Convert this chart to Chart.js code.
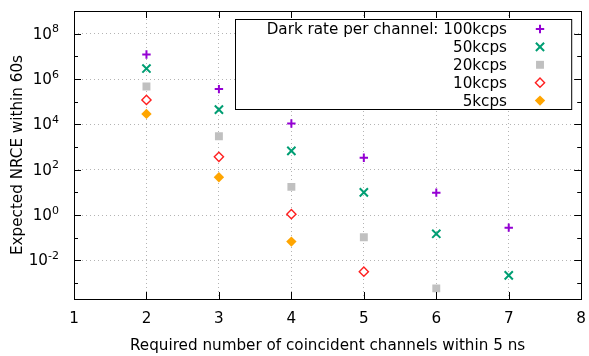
<!DOCTYPE html>
<html>
<head>
<meta charset="utf-8">
<script src="https://cdn.jsdelivr.net/npm/chart.js@4.4.1/dist/chart.umd.min.js"></script>
<style>
  html, body { margin: 0; padding: 0; background: #fff; }
  canvas { display: block; }
</style>
</head>
<body>
<canvas id="chart" width="589" height="356"></canvas>
<script>
// data (expected NRCE within 60s)
const channels = [2, 3, 4, 5, 6, 7];
const rate100k = [1.2e7, 3.6e5, 1.1e4, 340, 9.8, 0.28];
const rate50k = [2.9e6, 4.5e4, 680, 10, 0.15, 0.0022];
const rate20k = [4.7e5, 3.0e3, 17.6, 0.105, 5.9e-4];
const rate10k = [1.2e5, 370, 1.1, 0.0032];
const rate5k = [2.9e4, 47, 0.068];
const seriesLabels = ['Dark rate per channel: 100kcps', '50kcps', '20kcps', '10kcps', '5kcps'];
const xTicks = [1, 2, 3, 4, 5, 6, 7, 8];
const yDecades = [-3, -2, -1, 0, 1, 2, 3, 4, 5, 6, 7, 8];
const yLabelDecades = [-2, 0, 2, 4, 6, 8];

const FONT = '"DejaVu Sans", sans-serif';
const FS = 15.2;
const GRID = '#b4b4b4';

const toPoints = (vals) => vals.map((v, i) => ({ x: channels[i], y: v }));

const datasets = [
  { label: seriesLabels[0], data: toPoints(rate100k), pointStyle: 'cross', radius: 4.2,
    borderColor: '#9400d3', backgroundColor: '#9400d3', borderWidth: 2 },
  { label: seriesLabels[1], data: toPoints(rate50k), pointStyle: 'crossRot', radius: 5.8,
    borderColor: '#009e73', backgroundColor: '#009e73', borderWidth: 2 },
  { label: seriesLabels[2], data: toPoints(rate20k), pointStyle: 'rect', radius: 5.6,
    borderColor: '#c0c0c0', backgroundColor: '#c0c0c0', borderWidth: 0 },
  { label: seriesLabels[3], data: toPoints(rate10k), pointStyle: 'rectRot', radius: 4.6,
    borderColor: '#ff2020', backgroundColor: '#ffffff', borderWidth: 1.4 },
  { label: seriesLabels[4], data: toPoints(rate5k), pointStyle: 'rectRot', radius: 5.2,
    borderColor: '#ffa500', backgroundColor: '#ffa500', borderWidth: 0 },
].map(d => ({ ...d, showLine: false, pointRadius: d.radius, pointHoverRadius: d.radius }));

// gnuplot-like frame, inward ticks, labels and key box
const gnuFrame = {
  id: 'gnuFrame',
  afterDatasetsDraw(chart) {
    const { ctx, chartArea: a } = chart;
    // key box
    const bx = 235, by = 19, bw = a.right - 10 - bx, bh = 90;
    ctx.save();
    ctx.fillStyle = '#fff';
    ctx.fillRect(bx, by, bw, bh);
    ctx.strokeStyle = '#000';
    ctx.lineWidth = 1;
    ctx.strokeRect(bx + 0.5, by + 0.5, bw, bh);
    ctx.font = FS + 'px ' + FONT;
    ctx.textAlign = 'right';
    ctx.textBaseline = 'middle';
    ctx.fillStyle = '#000';
    chart.data.datasets.forEach((ds, i) => {
      const ry = 29 + i * 17.9;
      ctx.fillText(ds.label, 507, ry + 1);
      ctx.strokeStyle = ds.borderColor;
      ctx.fillStyle = ds.backgroundColor;
      ctx.lineWidth = ds.borderWidth;
      Chart.helpers.drawPoint(ctx, {
        pointStyle: ds.pointStyle, radius: ds.radius, borderWidth: ds.borderWidth, rotation: 0
      }, 540, ry);
      ctx.fillStyle = '#000';
    });
    ctx.restore();
  },
  afterDraw(chart) {
    const { ctx, chartArea: a, scales: { x, y } } = chart;
    ctx.save();
    ctx.strokeStyle = '#000';
    ctx.lineWidth = 1;
    ctx.beginPath();
    xTicks.forEach(v => {
      const px = Math.round(x.getPixelForValue(v)) + 0.5;
      ctx.moveTo(px, a.bottom); ctx.lineTo(px, a.bottom - 7);
      ctx.moveTo(px, a.top); ctx.lineTo(px, a.top + 7);
    });
    yDecades.forEach(e => {
      const py = Math.round(y.getPixelForValue(Math.pow(10, e))) + 0.5;
      const len = e % 2 === 0 ? 7 : 4;
      ctx.moveTo(a.left, py); ctx.lineTo(a.left + len, py);
      ctx.moveTo(a.right, py); ctx.lineTo(a.right - len, py);
    });
    ctx.stroke();
    ctx.strokeRect(Math.round(a.left) + 0.5, Math.round(a.top) + 0.5,
      Math.round(a.right - a.left), Math.round(a.bottom - a.top));

    ctx.fillStyle = '#000';
    ctx.font = FS + 'px ' + FONT;
    ctx.textAlign = 'center';
    ctx.textBaseline = 'middle';
    xTicks.forEach(v => ctx.fillText(String(v), x.getPixelForValue(v), a.bottom + 20));

    yLabelDecades.forEach(e => {
      const py = y.getPixelForValue(Math.pow(10, e));
      ctx.font = '11px ' + FONT;
      const exp = String(e);
      const ew = ctx.measureText(exp).width;
      ctx.font = FS + 'px ' + FONT;
      const bw = ctx.measureText('10').width;
      const right = a.left - 15;
      ctx.textAlign = 'left';
      ctx.textBaseline = 'middle';
      ctx.fillText('10', right - ew - bw, py + 1);
      ctx.font = '11px ' + FONT;
      ctx.textBaseline = 'alphabetic';
      ctx.fillText(exp, right - ew, py - 1.5);
    });

    ctx.font = FS + 'px ' + FONT;
    ctx.textAlign = 'center';
    ctx.textBaseline = 'middle';
    ctx.fillText('Required number of coincident channels within 5 ns', (a.left + a.right) / 2, 346);
    ctx.translate(18, (a.top + a.bottom) / 2);
    ctx.rotate(-Math.PI / 2);
    ctx.fillText('Expected NRCE within 60s', 0, 0);
    ctx.restore();
  }
};

new Chart(document.getElementById('chart'), {
  type: 'scatter',
  data: { datasets },
  options: {
    responsive: false,
    animation: false,
    events: [],
    layout: { padding: { top: 11, right: 6, left: 0, bottom: 0 } },
    plugins: { legend: { display: false }, tooltip: { enabled: false } },
    scales: {
      x: {
        type: 'linear', min: 1, max: 8,
        afterFit: (s) => { s.height = 57; },
        afterBuildTicks: (s) => { s.ticks = xTicks.map(v => ({ value: v })); },
        ticks: { display: false },
        grid: {
          drawTicks: false,
          color: (c) => (c.tick && (c.tick.value === 1 || c.tick.value === 8)) ? 'rgba(0,0,0,0)' : GRID,
        },
        border: { display: false, dash: [1, 3] },
      },
      y: {
        type: 'logarithmic', min: 2e-4, max: 1e9,
        afterFit: (s) => { s.width = 74; },
        afterBuildTicks: (s) => { s.ticks = yDecades.map(e => ({ value: Math.pow(10, e) })); },
        ticks: { display: false },
        grid: {
          drawTicks: false,
          color: (c) => {
            if (!c.tick) return 'rgba(0,0,0,0)';
            const e = Math.round(Math.log10(c.tick.value));
            return e % 2 === 0 ? GRID : 'rgba(0,0,0,0)';
          },
        },
        border: { display: false, dash: [1, 3] },
      },
    },
  },
  plugins: [gnuFrame],
});
</script>
</body>
</html>
